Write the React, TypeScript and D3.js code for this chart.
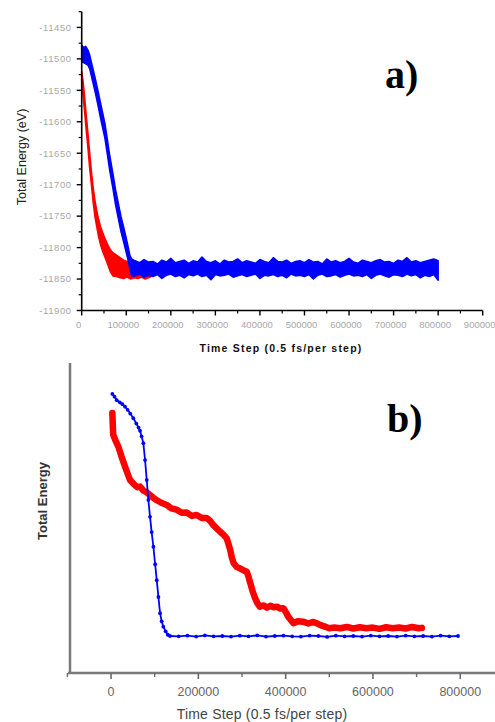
import * as d3 from 'd3'

const SANS = 'Arial, "Liberation Sans", Helvetica, sans-serif'
const SERIF = '"Times New Roman", "Liberation Serif", serif'
const BLUE = '#0000ff'
const RED = '#ff0000'

// ---- panel a) : total energy (eV) vs time step ----
const A_X_TICKS = [0, 100000, 200000, 300000, 400000, 500000, 600000, 700000, 800000, 900000]
const A_Y_TICKS = [-11900, -11850, -11800, -11750, -11700, -11650, -11600, -11550, -11500, -11450]

// blue run: fast plateau near -11490 then a slow drop, then noisy equilibrium
const BLUE_A_DROP_STEPS = [0, 4000, 9000, 14000, 18000, 24000, 30000, 36000, 44000, 52000, 58000, 63000, 70000, 76000, 82000, 88000, 94000, 99000, 104000, 108000, 112000]
const BLUE_A_DROP_HI = [-11478, -11482, -11480, -11486, -11494, -11512, -11530, -11549, -11576, -11602, -11630, -11654, -11682, -11708, -11729, -11750, -11767, -11782, -11798, -11812, -11818]
const BLUE_A_DROP_LO = [-11505, -11506, -11508, -11510, -11516, -11534, -11552, -11572, -11600, -11626, -11654, -11678, -11706, -11732, -11753, -11774, -11791, -11805, -11820, -11834, -11845]
const BLUE_A_FLAT_STEPS = d3.range(120000, 800001, 10000)
const BLUE_A_FLAT_HI = [
  -11821, -11824, -11819, -11823, -11822, -11826, -11820, -11823, -11817, -11824,
  -11822, -11820, -11825, -11821, -11823, -11815, -11822, -11824, -11821, -11826,
  -11820, -11823, -11822, -11818, -11824, -11821, -11823, -11825, -11819, -11822,
  -11824, -11816, -11822, -11823, -11820, -11825, -11822, -11821, -11824, -11819,
  -11823, -11822, -11826, -11818, -11823, -11821, -11824, -11822, -11817, -11823,
  -11825, -11820, -11822, -11824, -11821, -11819, -11823, -11822, -11825, -11820,
  -11822, -11816, -11823, -11821, -11824, -11822, -11820, -11818, -11821,
]
const BLUE_A_FLAT_LO = [
  -11845, -11842, -11847, -11844, -11846, -11843, -11849, -11844, -11842, -11846,
  -11844, -11848, -11843, -11845, -11842, -11846, -11844, -11851, -11843, -11845,
  -11844, -11842, -11847, -11845, -11843, -11846, -11844, -11842, -11849, -11844,
  -11845, -11843, -11846, -11844, -11848, -11842, -11845, -11844, -11846, -11843,
  -11850, -11844, -11842, -11846, -11845, -11843, -11847, -11844, -11842, -11845,
  -11844, -11846, -11843, -11849, -11844, -11842, -11845, -11847, -11843, -11844,
  -11846, -11842, -11845, -11843, -11848, -11844, -11846, -11843, -11852,
]

// red run: immediate steep drop, ends ~156000 steps
const RED_A_STEPS = [0, 3000, 6000, 10000, 14000, 18000, 22000, 26000, 30000, 34000, 38000, 42000, 47000, 52000, 58000, 64000, 70000, 78000, 86000, 94000, 102000, 110000, 118000, 126000, 134000, 142000, 150000, 156000]
const RED_A_HI = [-11520, -11535, -11555, -11588, -11618, -11650, -11680, -11706, -11726, -11742, -11755, -11766, -11776, -11785, -11795, -11803, -11808, -11812, -11816, -11820, -11822, -11825, -11826, -11830, -11832, -11834, -11835, -11838]
const RED_A_LO = [-11535, -11560, -11580, -11612, -11642, -11675, -11702, -11730, -11752, -11768, -11783, -11795, -11806, -11815, -11826, -11838, -11845, -11846, -11848, -11849, -11847, -11850, -11848, -11849, -11847, -11850, -11848, -11846]

// ---- panel b) : total energy (arbitrary units) vs time step ----
const B_X_LABELS = [0, 200000, 400000, 600000, 800000]
const B_X_MINOR = [-100000, 100000, 300000, 500000, 700000]

const BLUE_B_STEPS = [
  3000, 8000, 13000, 20000, 26000, 32000, 38000, 44000, 51000, 58000, 63000, 66400, 70000, 74000,
  77900, 81800, 85500, 89300, 93000, 97000, 101000, 104700, 108500, 112300, 116000, 119800, 125000,
  130000, 135000, 155000, 175000, 195000, 215000, 235000, 255000, 275000, 295000, 315000, 335000,
  355000, 375000, 395000, 415000, 435000, 455000, 475000, 495000, 515000, 535000, 555000, 575000,
  595000, 615000, 635000, 655000, 675000, 695000, 715000, 735000, 755000, 775000, 795000,
]
const BLUE_B_VALUES = [
  90.1, 89.2, 88.1, 87.4, 86.8, 86.0, 85.0, 83.8, 82.3, 80.6, 79.3, 78.3, 76.5, 74.3,
  68.9, 62.5, 56.1, 50.7, 45.8, 41.1, 35.5, 30.4, 25.0, 19.8, 17.2, 15.5, 14.0,
  12.9, 12.5, 12.4, 12.6, 12.3, 12.7, 12.4, 12.5, 12.3, 12.6, 12.4, 12.7,
  12.3, 12.5, 12.6, 12.4, 12.3, 12.6, 12.5, 12.2, 12.6, 12.4, 12.5, 12.3,
  12.6, 12.4, 12.5, 12.3, 12.6, 12.4, 12.5, 12.3, 12.6, 12.4, 12.5,
]

const RED_B_STEPS = [
  3000, 4000, 5000, 10000, 16700, 24000, 32000, 38000, 43500, 52000, 60000, 66400, 74000, 80000,
  89300, 97000, 105000, 115000, 127600, 138000, 150000, 162000, 173000, 185000, 196000, 208000,
  219000, 227000, 234000, 242000, 250000, 258000, 265000, 269000, 273000, 277000, 281000, 288000,
  295000, 303000, 311000, 315000, 318000, 324000, 330000, 336000, 341000, 350000, 357000, 366000,
  372000, 380000, 388000, 395000, 401000, 406000, 412000, 418000, 428000, 440000, 452000, 462000,
  471000, 480000, 490000, 500000, 512000, 525000, 540000, 555000, 570000, 585000, 600000, 615000,
  630000, 645000, 660000, 675000, 690000, 705000, 712000,
]
const RED_B_VALUES = [
  84.0, 80.0, 77.0, 75.2, 73.2, 70.0, 66.8, 64.5, 62.5, 61.2, 60.2, 60.4, 59.1, 58.7,
  57.7, 56.8, 56.0, 55.2, 54.5, 53.4, 53.0, 52.0, 52.1, 51.0, 51.3, 50.3,
  50.3, 49.4, 48.1, 47.0, 45.9, 44.9, 43.8, 42.0, 40.1, 37.5, 35.8, 34.6,
  34.2, 33.6, 33.1, 31.5, 29.9, 27.0, 24.6, 22.8, 21.9, 22.3, 21.6, 22.2,
  21.7, 21.9, 21.3, 21.4, 20.0, 18.7, 17.6, 16.6, 17.2, 17.1, 16.5, 17.0,
  16.6, 16.0, 15.5, 15.0, 15.2, 15.0, 15.4, 14.9, 15.3, 15.0, 15.2, 14.8,
  15.3, 15.0, 15.2, 14.9, 15.4, 15.0, 15.1,
]

type Band = { s: number; hi: number; lo: number }
type Pt = { s: number; v: number }

const band = (steps: number[], hi: number[], lo: number[]): Band[] =>
  steps.map((s, i) => ({ s, hi: hi[i], lo: lo[i] }))
const pts = (steps: number[], vals: number[]): Pt[] => steps.map((s, i) => ({ s, v: vals[i] }))

export default function App() {
  // scales, panel a
  const xA = d3.scaleLinear().domain([0, 900000]).range([81.7, 482.7])
  const yA = d3.scaleLinear().domain([-11900, -11425]).range([310.5, 11.7])
  // scales, panel b
  const xB = d3.scaleLinear().domain([-100000, 900000]).range([67.4, 503.9])
  const yB = d3.scaleLinear().domain([0, 100]).range([675, 363])

  const areaA = d3.area<Band>().x(d => xA(d.s)).y0(d => yA(d.lo)).y1(d => yA(d.hi))
  const blueA = band(
    [...BLUE_A_DROP_STEPS, ...BLUE_A_FLAT_STEPS],
    [...BLUE_A_DROP_HI, ...BLUE_A_FLAT_HI],
    [...BLUE_A_DROP_LO, ...BLUE_A_FLAT_LO],
  )
  const redA = band(RED_A_STEPS, RED_A_HI, RED_A_LO)

  const lineB = d3.line<Pt>().x(d => xB(d.s)).y(d => yB(d.v))
  const blueB = pts(BLUE_B_STEPS, BLUE_B_VALUES)
  const redB = pts(RED_B_STEPS, RED_B_VALUES)

  const aMinorX = A_X_TICKS.slice(0, -1).map(t => t + 50000)
  const aMinorY = A_Y_TICKS.map(t => t + 25)
  const axisYA = yA(-11900)

  return (
    <svg width={495} height={722} style={{ position: 'absolute', left: 0, top: 0, background: '#fff' }}>
      {/* ---------- panel a ---------- */}
      <path d={areaA(redA) ?? ''} fill={RED} stroke={RED} strokeWidth={1.5} strokeLinejoin="round" />
      <path d={areaA(blueA) ?? ''} fill={BLUE} stroke={BLUE} strokeWidth={1.5} strokeLinejoin="round" />

      <line x1={xA(0)} x2={xA(0)} y1={yA(-11425)} y2={axisYA} stroke="#000" strokeWidth={1.6} />
      <line x1={xA(0)} x2={xA(900000)} y1={axisYA} y2={axisYA} stroke="#000" strokeWidth={1.6} />
      {A_Y_TICKS.map(t => (
        <g key={`ay${t}`}>
          <line x1={xA(0) - 5} x2={xA(0)} y1={yA(t)} y2={yA(t)} stroke="#000" strokeWidth={1.4} />
          <text x={xA(0) - 10} y={yA(t)} dy="0.35em" textAnchor="end" fontFamily={SANS} fontSize={9.5}
            letterSpacing={0.6} fill="#a8a8a8">{t}</text>
        </g>
      ))}
      {aMinorY.map(t => (
        <line key={`aym${t}`} x1={xA(0) - 3} x2={xA(0)} y1={yA(t)} y2={yA(t)} stroke="#000" strokeWidth={1.2} />
      ))}
      {A_X_TICKS.map(t => (
        <g key={`ax${t}`}>
          <line x1={xA(t)} x2={xA(t)} y1={axisYA} y2={axisYA + 5} stroke="#000" strokeWidth={1.4} />
          <text x={xA(t) - 3} y={axisYA + 17} textAnchor="middle" fontFamily={SANS} fontSize={9.5}
            fill="#a8a8a8">{t}</text>
        </g>
      ))}
      {aMinorX.map(t => (
        <line key={`axm${t}`} x1={xA(t)} x2={xA(t)} y1={axisYA} y2={axisYA + 3} stroke="#000" strokeWidth={1.2} />
      ))}
      <text transform="translate(26,157) rotate(-90)" textAnchor="middle" fontFamily={SANS} fontSize={12.5}
        fill="#222">Total Energy (eV)</text>
      <text x={281} y={352} textAnchor="middle" fontFamily={SANS} fontSize={10.5} fontWeight="bold"
        letterSpacing={1.2} fill="#111">Time Step (0.5 fs/per step)</text>
      <text x={385} y={88} fontFamily={SERIF} fontSize={40} fontWeight="bold" fill="#000">a)</text>

      {/* ---------- panel b ---------- */}
      <path d={lineB(redB) ?? ''} fill="none" stroke={RED} strokeWidth={6.5} strokeLinejoin="round" strokeLinecap="round" />
      <path d={lineB(blueB) ?? ''} fill="none" stroke={BLUE} strokeWidth={1.8} strokeLinejoin="round" />
      {blueB.map(d => (
        <circle key={`bb${d.s}`} cx={xB(d.s)} cy={yB(d.v)} r={1.9} fill={BLUE} />
      ))}

      <line x1={70} x2={70} y1={363} y2={674} stroke="#7a7a7a" strokeWidth={2.5} />
      <line x1={68} x2={495} y1={673} y2={673} stroke="#7a7a7a" strokeWidth={2.5} />
      {B_X_LABELS.map(t => (
        <g key={`bx${t}`}>
          <line x1={xB(t)} x2={xB(t)} y1={673} y2={679} stroke="#6a6a6a" strokeWidth={1.6} />
          <text x={xB(t)} y={696} textAnchor="middle" fontFamily={SANS} fontSize={12.5} fill="#666">{t}</text>
        </g>
      ))}
      {B_X_MINOR.map(t => (
        <line key={`bxm${t}`} x1={xB(t)} x2={xB(t)} y1={673} y2={677} stroke="#6a6a6a" strokeWidth={1.4} />
      ))}
      <text transform="translate(47,501) rotate(-90)" textAnchor="middle" fontFamily={SANS} fontSize={13}
        fontWeight="bold" fill="#333">Total Energy</text>
      <text x={262} y={719} textAnchor="middle" fontFamily={SANS} fontSize={14} letterSpacing={0.2}
        fill="#444">Time Step (0.5 fs/per step)</text>
      <text x={387} y={432} fontFamily={SERIF} fontSize={40} fontWeight="bold" fill="#000">b)</text>
    </svg>
  )
}
